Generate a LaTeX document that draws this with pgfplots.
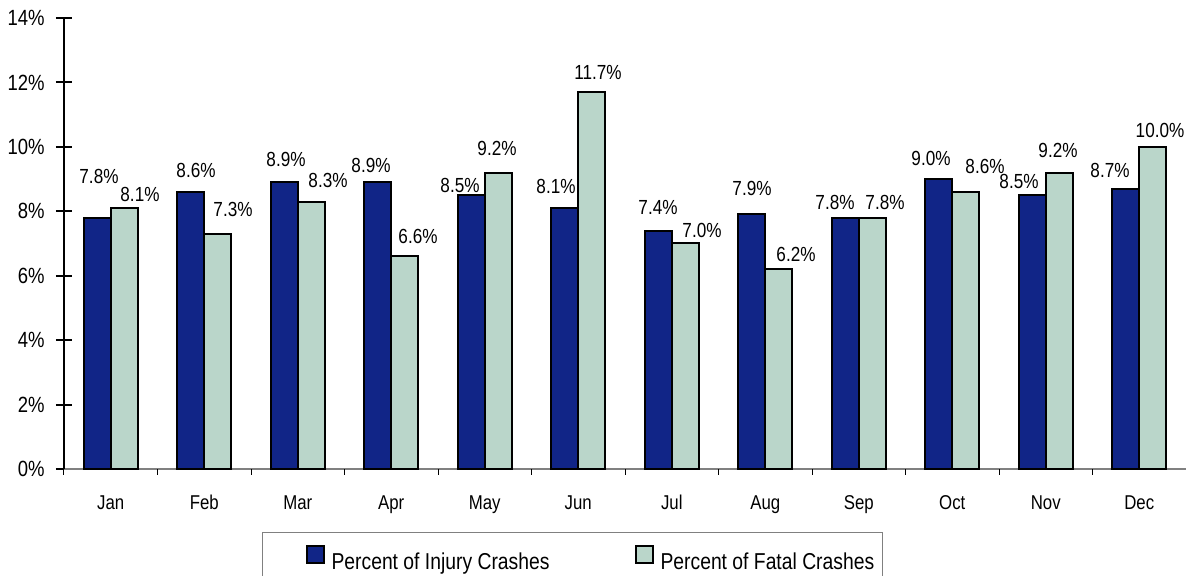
\documentclass[border=0pt]{standalone}
\usepackage{fontspec}
\setmainfont{Liberation Sans}
\usepackage{graphicx}
\usepackage{pgfplots}
\pgfplotsset{compat=1.18}
\usepackage{pgfplotstable}
\definecolor{injc}{RGB}{17,37,135}
\definecolor{fatc}{RGB}{186,214,202}
\newcommand\nar[1]{\scalebox{0.84}[1]{#1}}

\pgfplotstableread{
x inj fat dxi dyi dxf dyf
0 7.8 8.1 1.75 40.8 15.75 13.1
1 8.6 7.3 5.25 21.0 15.25 23.9
2 8.9 8.3 1.75 23.3 16.75 20.7
3 8.9 6.6 -6.75 17.3 13.25 20.4
4 8.5 9.2 -11.25 9.2 -1.25 23.7
5 8.1 11.7 -8.75 21.1 6.25 20.1
6 7.4 7.0 -0.25 23.6 16.75 13.5
7 7.9 6.2 0.25 26.5 17.25 14.3
8 7.8 7.8 -10.25 14.8 12.75 14.8
9 9.0 8.6 -7.75 20.1 19.25 25.0
10 8.5 9.2 -13.25 13.2 -1.25 21.7
11 8.7 10.0 -15.75 17.8 7.25 15.9
}\datatab

\begin{document}
\begin{tikzpicture}
\begin{axis}[
  scale only axis, width=561pt, height=225.5pt,
  xmin=-0.5, xmax=11.5, ymin=0, ymax=14,
  clip=false,
  ybar, bar width=13.5pt,
  /pgf/number format/assume math mode=true,
  axis x line*=bottom, axis y line*=left,
  x axis line style={-, draw=gray, line width=0.6pt},
  y axis line style={-, draw=black, line width=1pt},
  tick align=center,
  /pgfplots/xtick align/.try=outside,
  major tick length=8pt,
  ytick={0,2,...,14},
  yticklabel={\nar{\pgfmathprintnumber{\tick}\%}},
  y tick style={draw=black, line width=1pt},
  yticklabel style={font=\fontsize{11}{12}\selectfont, anchor=east, inner sep=0pt, xshift=-5.5pt},
  xtick={-0.5,0.5,...,11.5},
  x tick label as interval,
  xticklabels={\nar{Jan},\nar{Feb},\nar{Mar},\nar{Apr},\nar{May},\nar{Jun},\nar{Jul},\nar{Aug},\nar{Sep},\nar{Oct},\nar{Nov},\nar{Dec}},
  major x tick style={draw=none},
  extra x ticks={-0.5,0.5,...,11.5},
  extra x tick labels={},
  extra x tick style={major tick length=3pt, major x tick style={draw=black, line width=0.5pt}},
  xticklabel style={font=\fontsize{10}{11}\selectfont, anchor=base, yshift=-12.25pt},
  point meta=y,
  nodes near coords={\nar{\pgfmathprintnumber[fixed,fixed zerofill,precision=1]{\pgfplotspointmeta}\%}},
  every node near coord/.append style={font=\fontsize{10.2}{11}\selectfont, anchor=center, inner sep=0pt, xshift=\mydx*0.5pt, yshift=\mydy*0.5pt},
  legend columns=2,
  legend cell align=left,
  legend style={at={(0.1765,-0.1397)}, anchor=north west, draw=gray, line width=0.5pt,
    inner xsep=0pt, inner ysep=6.5pt, column sep=3.5pt,
    font=\fontsize{11.5}{12}\selectfont,
    nodes={inner sep=0pt, text height=9pt, text depth=2.5pt}},
]
\addplot[fill=injc, draw=black, line width=1pt, bar shift=-6.75pt,
  visualization depends on={\thisrow{dxi} \as \mydx},
  visualization depends on={\thisrow{dyi} \as \mydy},
  legend image code/.code={\path (0pt,0pt); \draw[fill=injc, draw=black, line width=1pt] (21.5pt,-0.25pt) rectangle (30pt,8.25pt);}]
  table[x=x, y=inj] {\datatab};
\addlegendentry{\makebox[148pt][l]{\nar{Percent of Injury Crashes}}}
\addplot[fill=fatc, draw=black, line width=1pt, bar shift=6.75pt,
  visualization depends on={\thisrow{dxf} \as \mydx},
  visualization depends on={\thisrow{dyf} \as \mydy},
  legend image code/.code={\draw[fill=fatc, draw=black, line width=1pt] (0pt,-0.25pt) rectangle (8.5pt,8.25pt);}]
  table[x=x, y=fat] {\datatab};
\addlegendentry{\makebox[111pt][l]{\nar{Percent of Fatal Crashes}}}
\coordinate (bl) at (rel axis cs:0,0);
\end{axis}
\pgfresetboundingbox
\path (bl) ++(-32pt,-53.5pt) rectangle ++(593pt,288pt);
\end{tikzpicture}
\end{document}
